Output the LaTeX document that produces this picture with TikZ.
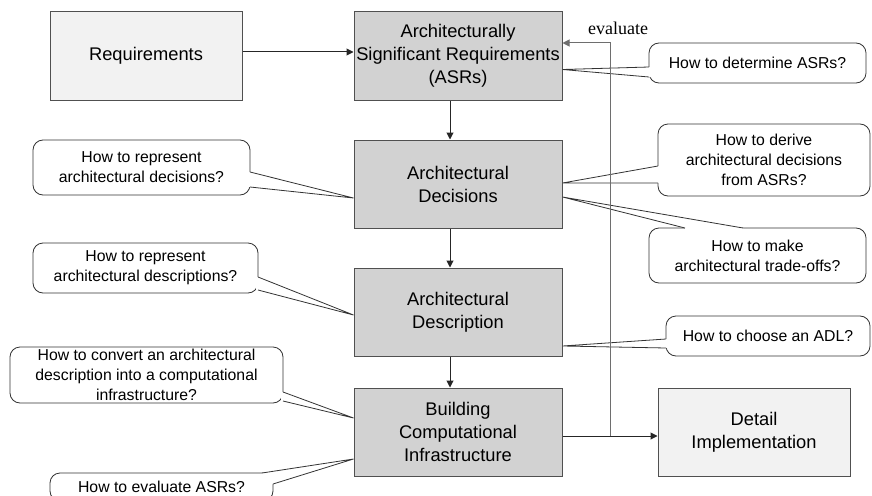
\documentclass[tikz,border=0pt]{standalone}
\usepackage{fontspec}
\setmainfont{Liberation Sans}
\newfontfamily\evalfont{Liberation Serif}
\usetikzlibrary{arrows.meta,calc}
\definecolor{boxgray}{RGB}{210,210,210}
\definecolor{boxlight}{RGB}{242,242,242}
\definecolor{edgegray}{RGB}{80,80,80}
\definecolor{linegray}{RGB}{110,110,110}
\tikzset{
  mainbox/.style={draw=edgegray, line width=1pt, fill=boxgray, inner sep=0pt, align=center,
    minimum width=208pt, minimum height=88pt, font=\fontsize{18.3}{23}\selectfont},
  lightbox/.style={mainbox, fill=boxlight, minimum width=192pt},
  callout/.style={draw=black!80, line width=0.8pt, fill=white, rounded corners=10pt, inner sep=0pt,
    align=center, font=\fontsize{15.8}{20}\selectfont},
  arr/.style={draw=black!85, line width=1pt, -{Triangle[length=7pt,width=7pt]}},
  ptr/.style={draw=black!80, line width=0.8pt},
}
\newcommand{\pointer}[5]{%
  \fill[white] #1 -- #2 -- #3 -- #4 -- #5 -- cycle;
  \draw[ptr] #1 -- #2 -- #3;
}
\begin{document}
\begin{tikzpicture}[x=1pt,y=-1pt]
\useasboundingbox (0,0) rectangle (872,495);
\begin{scope}
\clip (0,0) rectangle (872,495);
% main boxes
\node[lightbox] (req) at (146,56) {Requirements};
\node[mainbox] (asr) at (458,56) {Architecturally\\Significant Requirements\\(ASRs)};
\node[mainbox] (ad) at (458,184) {Architectural\\Decisions};
\node[mainbox] (desc) at (458,312) {Architectural\\Description};
\node[mainbox] (build) at (458,432) {Building\\Computational\\Infrastructure};
\node[lightbox] (det) at (754,432) {Detail\\Implementation};

% arrows
\draw[arr] ([yshift=4pt]req.east) -- ([yshift=4pt]asr.west);
\draw[arr] ([xshift=-8pt]asr.south) -- ([xshift=-8pt]ad.north);
\draw[arr] ([xshift=-8pt]ad.south) -- ([xshift=-8pt]desc.north);
\draw[arr] ([xshift=-8pt]desc.south) -- ([xshift=-8pt]build.north);

% callouts
\node[callout, minimum width=217pt, minimum height=40pt] (c1) at (757.5,63) {How to determine ASRs?};
\pointer{(649,67)}{(562.5,69.5)}{(649,77)}{(651,77)}{(651,67)}
\node[callout, minimum width=212pt, minimum height=72pt] (c2) at (764,160) {How to derive\\architectural decisions\\from ASRs?};
\pointer{(658,166)}{(562.5,183)}{(658,183)}{(660,183)}{(660,166)}
\node[callout, minimum width=217pt, minimum height=55pt] (c3) at (757.5,255.5) {How to make\\architectural trade-offs?};
\pointer{(743,228)}{(562.5,197)}{(685,228)}{(685,230)}{(743,230)}
\node[callout, minimum width=204pt, minimum height=40pt] (c4) at (768,336) {How to choose an ADL?};
\pointer{(666,339)}{(562.5,346)}{(666,348)}{(668,348)}{(668,339)}
\node[callout, minimum width=217pt, minimum height=55pt] (c5) at (141.5,167.5) {How to represent\\architectural decisions?};
\pointer{(250,172)}{(353.5,198)}{(250,187)}{(248,187)}{(248,172)}
\node[callout, minimum width=225pt, minimum height=50pt] (c6) at (145.5,268) {How to represent\\architectural descriptions?};
\pointer{(258,277)}{(353.5,315)}{(258,290)}{(256,290)}{(256,277)}
\node[callout, minimum width=273pt, minimum height=56pt] (c7) at (146.5,375) {How to convert an architectural\\description into a computational\\infrastructure?};
\pointer{(283,392)}{(353.5,418)}{(283,401)}{(281,401)}{(281,392)}
\node[callout, minimum width=223pt, minimum height=28pt] (c8) at (161.5,487) {How to evaluate ASRs?};
\pointer{(262,473)}{(353.5,459)}{(273,484)}{(263,484)}{(262,475)}

% feedback
\coordinate (j) at (610,436);
\draw[arr] ([yshift=-4pt]build.east) -- ([yshift=-4pt]det.west);
\draw[arr, draw=linegray] (j) |- ([yshift=13pt]asr.east);
\node[font=\evalfont\fontsize{18}{20}\selectfont, anchor=base] (ev) at (618,35) {evaluate};
\end{scope}
\end{tikzpicture}
\end{document}
